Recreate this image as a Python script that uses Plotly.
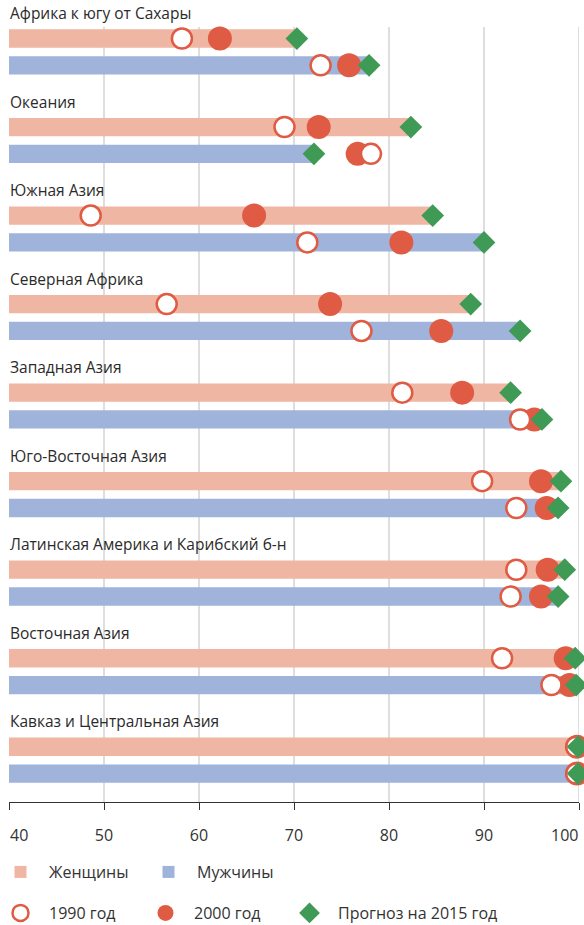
import plotly.graph_objects as go

REGIONS = [
    "Африка к югу от Сахары",
    "Океания",
    "Южная Азия",
    "Северная Африка",
    "Западная Азия",
    "Юго-Восточная Азия",
    "Латинская Америка и Карибский б-н",
    "Восточная Азия",
    "Кавказ и Центральная Азия",
]
W1990 = [58.2, 69.0, 48.6, 56.6, 81.4, 89.8, 93.4, 91.9, 99.7]
W2000 = [62.2, 72.6, 65.8, 73.8, 87.7, 96.0, 96.7, 98.6, 99.8]
W2015 = [70.3, 82.3, 84.6, 88.6, 92.8, 98.1, 98.5, 99.6, 99.9]
M1990 = [72.8, 78.1, 71.4, 77.1, 93.8, 93.4, 92.8, 97.1, 99.7]
M2000 = [75.8, 76.7, 81.3, 85.5, 95.3, 96.6, 96.0, 99.0, 99.8]
M2015 = [77.9, 72.1, 90.0, 93.8, 96.1, 97.8, 97.8, 99.7, 99.9]
TICKS = [40, 50, 60, 70, 80, 90, 100]
TICK_LABELS = ["40", "50", "60", "70", "80", "90", "100"]

PINK = "#EFB6A4"
BLUE = "#9FB3DB"
RED = "#E05B43"
GREEN = "#3F9A56"
FONT = "Open Sans"
TXT = "#333"

n = len(REGIONS)
OFF = 0.303
yw = [i for i in range(n)]
ym = [i + OFF for i in range(n)]
GRID_TOP = -0.13
Y_BOTTOM = n - 1 + OFF + 0.321
Y_TOP = GRID_TOP - 27 / 88.53

# inner tick labels via the axis; the two end labels are drawn as annotations
# aligned to stay inside the figure (first left-aligned, last right-aligned)
ticktext = [""] + TICK_LABELS[1:-1] + [""]

fig = go.Figure()
fig.add_trace(go.Bar(y=yw, x=W2015, orientation="h", marker=dict(color=PINK, line=dict(width=0)),
                     width=0.207, name="Женщины", legend="legend"))
fig.add_trace(go.Bar(y=ym, x=M2015, orientation="h", marker=dict(color=BLUE, line=dict(width=0)),
                     width=0.207, name="Мужчины", legend="legend2"))

ally = yw + ym
fig.add_trace(go.Scatter(y=ally, x=W2000 + M2000, mode="markers", name="2000 год", legend="legend4",
                         cliponaxis=False,
                         marker=dict(symbol="circle", size=24, color=RED, line=dict(width=0))))
fig.add_trace(go.Scatter(y=ally, x=W1990 + M1990, mode="markers", name="1990 год", legend="legend3",
                         cliponaxis=False,
                         marker=dict(symbol="circle", size=20, color="white", line=dict(width=2.5, color=RED))))
fig.add_trace(go.Scatter(y=ally, x=W2015 + M2015, mode="markers", name="Прогноз на 2015 год", legend="legend5",
                         cliponaxis=False,
                         marker=dict(symbol="diamond", size=17.5, color=GREEN, line=dict(width=0))))

for i, r in enumerate(REGIONS):
    fig.add_annotation(x=0, xref="paper", y=i - 0.288, yref="y", text=r, showarrow=False,
                       xanchor="left", yanchor="middle", xshift=-1,
                       font=dict(family=FONT, size=15.5, color="#2b2b2b"))

for t in TICKS[1:]:
    fig.add_shape(type="line", x0=t, x1=t, xref="x", y0=GRID_TOP, y1=Y_BOTTOM, yref="y",
                  line=dict(color="#bdbdbd", width=1), layer="below")

for val, lab, anc in [(TICKS[0], TICK_LABELS[0], "left"), (TICKS[-1], TICK_LABELS[-1], "right")]:
    fig.add_annotation(x=val, xref="x", y=0, yref="paper", yshift=-33, text=lab, showarrow=False,
                       xanchor=anc, yanchor="middle", xshift=-1 if anc == "left" else 1,
                       font=dict(family=FONT, size=16, color=TXT))

LEG_FONT = dict(family=FONT, size=16, color=TXT)
ROW1, ROW2 = -0.0873, -0.1384


def leg(xpx, y):
    return dict(orientation="h", x=(xpx - 9) / 570, xanchor="left", y=y, yanchor="middle",
                itemwidth=47, font=LEG_FONT, itemsizing="trace", bgcolor="rgba(0,0,0,0)")


fig.update_layout(
    width=584, height=925,
    margin=dict(l=9, r=5, t=0, b=123, autoexpand=False),
    paper_bgcolor="white", plot_bgcolor="white",
    barmode="overlay",
    xaxis=dict(range=[40, 100], tickvals=TICKS, ticktext=ticktext, showgrid=False, zeroline=False,
               showline=True, linecolor=TXT, linewidth=1, ticks="outside", ticklen=7,
               tickcolor=TXT, tickwidth=1, ticklabelstandoff=12,
               automargin=False, tickfont=dict(family=FONT, size=16, color=TXT)),
    yaxis=dict(range=[Y_BOTTOM, Y_TOP], visible=False, automargin=False),
    legend=leg(-8, ROW1),
    legend2=leg(140, ROW1),
    legend3=leg(-8, ROW2),
    legend4=leg(137, ROW2),
    legend5=leg(281, ROW2),
    showlegend=True,
)

fig.write_html("out.html", config={"displayModeBar": False},
               post_script="document.body.style.margin='0';document.body.style.overflow='hidden';")
